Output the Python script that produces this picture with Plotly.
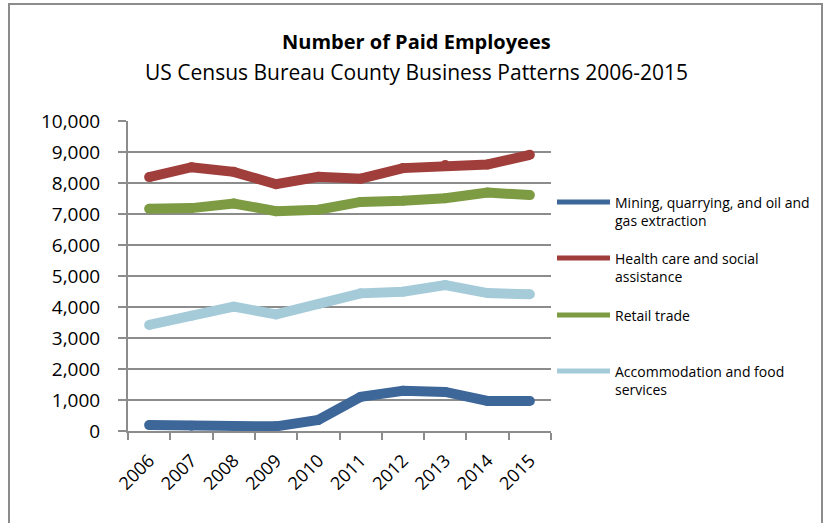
import plotly.graph_objects as go

years = ["2006", "2007", "2008", "2009", "2010", "2011", "2012", "2013", "2014", "2015"]

mining = [190, 170, 160, 150, 355, 1100, 1300, 1260, 970, 970]
health = [8190, 8510, 8360, 7960, 8200, 8140, 8480, 8580, 8600, 8910]
retail = [7170, 7190, 7340, 7090, 7140, 7390, 7430, 7510, 7690, 7610]
accommodation = [3420, 3720, 4010, 3760, 4090, 4440, 4490, 4710, 4450, 4410]

series_names = [
    "Mining, quarrying, and oil and<br>gas extraction",
    "Health care and social<br>assistance",
    "Retail trade",
    "Accommodation and food<br>services",
]
series_values = [mining, health, retail, accommodation]
series_colors = ["#3D6699", "#A03E3B", "#7D9B43", "#A5CBD9"]

FONT = "Open Sans"

fig = go.Figure()
for name, vals, col in zip(series_names, series_values, series_colors):
    fig.add_trace(go.Scatter(
        x=years, y=vals, mode="lines+markers", name=name,
        line=dict(color=col, width=10),
        marker=dict(color=col, size=10),
        showlegend=False, hoverinfo="x+y",
    ))

# plot area in pixels: x 128..551, y 121..431
W, H = 827, 523
L, R, T, B = 128, 551, 121, 431
pw, ph = R - L, B - T


def px_x(p):
    return (p - L) / pw


def px_y(p):
    return (B - p) / ph


shapes = [
    # outer chart frame
    dict(type="rect", xref="paper", yref="paper",
         x0=px_x(9), x1=px_x(822), y0=px_y(540), y1=px_y(4),
         line=dict(color="#8C8C8C", width=2), fillcolor="rgba(0,0,0,0)", layer="below"),
]

annotations = [
    dict(text="<b>Number of Paid Employees</b>", xref="paper", yref="paper",
         x=px_x(416), y=px_y(42), showarrow=False,
         font=dict(family=FONT, size=20, color="#000000"), xanchor="center", yanchor="middle"),
    dict(text="US Census Bureau County Business Patterns 2006-2015", xref="paper", yref="paper",
         x=px_x(416), y=px_y(72), showarrow=False,
         font=dict(family=FONT, size=21, color="#000000"), xanchor="center", yanchor="middle"),
]

# legend: sample line plus wrapped label
legend_y = [202, 258, 315, 371]
for name, col, ly in zip(series_names, series_colors, legend_y):
    shapes.append(dict(type="line", xref="paper", yref="paper",
                       x0=px_x(557), x1=px_x(610), y0=px_y(ly), y1=px_y(ly),
                       line=dict(color=col, width=5)))
    annotations.append(dict(text=name, xref="paper", yref="paper",
                            x=px_x(613), y=px_y(ly - 11), showarrow=False,
                            xanchor="left", yanchor="top", align="left",
                            font=dict(family=FONT, size=14, color="#000000")))

fig.update_layout(
    width=W, height=H,
    margin=dict(l=L, r=W - R, t=T, b=H - B, pad=0),
    paper_bgcolor="white", plot_bgcolor="white",
    shapes=shapes, annotations=annotations,
    xaxis=dict(
        type="category", range=[-0.5, 9.5],
        showline=True, linecolor="#8C8C8C", linewidth=2,
        ticks="outside", tickson="boundaries", ticklen=7, tickcolor="#8C8C8C", tickwidth=2,
        tickangle=-45, showgrid=False, ticklabelstandoff=10,
        tickfont=dict(family=FONT, size=18, color="#000000"),
    ),
    yaxis=dict(
        range=[0, 10000], dtick=1000, tickformat=",d",
        showline=True, linecolor="#8C8C8C", linewidth=2,
        ticks="outside", ticklen=8, tickcolor="#8C8C8C", tickwidth=2,
        showgrid=True, gridcolor="#8C8C8C", gridwidth=2,
        zeroline=False, ticklabelstandoff=14,
        tickfont=dict(family=FONT, size=19, color="#000000"),
    ),
)

fig.write_html("out.html")
